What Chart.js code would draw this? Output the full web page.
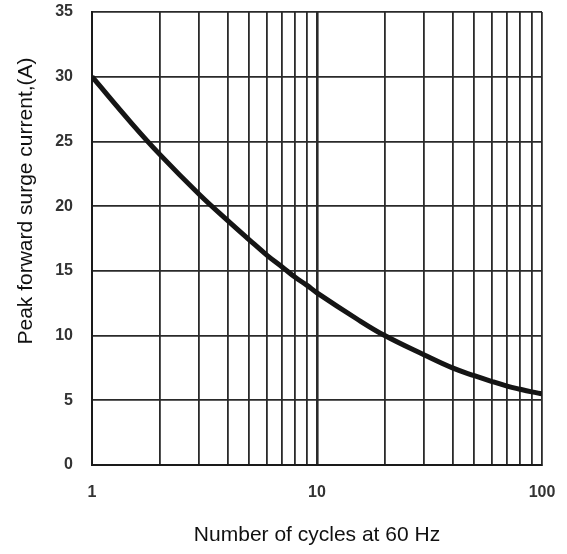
<!DOCTYPE html>
<html>
<head>
<meta charset="utf-8">
<script src="https://cdn.jsdelivr.net/npm/chart.js@4/dist/chart.umd.min.js"></script>
<style>
  html, body { margin: 0; padding: 0; background: #fff; }
  #wrap { width: 567px; height: 554px; }
</style>
</head>
<body>
<div id="wrap"><canvas id="c" width="567" height="554"></canvas></div>
<script>
// values
const cycles  = [1, 1.5, 2, 3, 4, 5, 6, 7, 8, 9, 10, 15, 20, 30, 40, 50, 60, 70, 80, 90, 100];
const current = [30, 26.4, 24.0, 20.9, 18.9, 17.4, 16.2, 15.3, 14.5, 13.9, 13.3, 11.3, 10.0, 8.5, 7.5, 6.9, 6.45, 6.1, 5.85, 5.65, 5.5];

// grid / tick positions
const xGrid   = [1, 2, 3, 4, 5, 6, 7, 8, 9, 10, 20, 30, 40, 50, 60, 70, 80, 90, 100];
const xLabels = [1, 10, 100];
const yMin = 0, yMax = 35, yStep = 5;

const xTitle = 'Number of cycles at 60 Hz';
const yTitle = 'Peak forward surge current,(A)';

const FONT = '"Liberation Sans", Arial, sans-serif';

// y title sits above centre in the reference, so draw it by hand
const yTitlePlugin = {
  id: 'yTitle',
  afterDraw(chart) {
    const ctx = chart.ctx;
    ctx.save();
    ctx.translate(26, 201);
    ctx.rotate(-Math.PI / 2);
    ctx.font = '21px ' + FONT;
    ctx.fillStyle = '#111';
    ctx.textAlign = 'center';
    ctx.textBaseline = 'middle';
    ctx.fillText(yTitle, 0, 0);
    ctx.restore();
  }
};

new Chart(document.getElementById('c'), {
  type: 'line',
  data: {
    datasets: [{
      data: cycles.map((x, i) => ({ x: x, y: current[i] })),
      borderColor: '#151515',
      borderWidth: 5,
      pointRadius: 0,
      tension: 0.4,
      fill: false
    }]
  },
  options: {
    responsive: false,
    animation: false,
    layout: { padding: { left: 0, right: 25, top: 12, bottom: 0 } },
    plugins: { legend: { display: false }, tooltip: { enabled: false } },
    scales: {
      x: {
        type: 'logarithmic',
        min: 1,
        max: 100,
        afterBuildTicks: s => { s.ticks = xGrid.map(v => ({ value: v })); },
        afterFit: s => { s.height = 89; s.paddingLeft = 0; s.paddingRight = 0; },
        ticks: {
          autoSkip: false,
          maxRotation: 0,
          padding: 18,
          color: '#333',
          font: { family: FONT, size: 16, weight: 'bold' },
          callback: v => xLabels.includes(v) ? String(v) : ''
        },
        grid: {
          drawTicks: false,
          color: '#2a2a2a',
          lineWidth: ctx => (ctx.tick && ctx.tick.value === 10) ? 2.6 : 1.8
        },
        border: { color: '#1a1a1a', width: 2 },
        title: {
          display: true,
          text: xTitle,
          color: '#111',
          font: { family: FONT, size: 21 },
          padding: { top: 0, bottom: 6 }
        }
      },
      y: {
        min: yMin,
        max: yMax,
        afterFit: s => { s.width = 92; s.paddingTop = 0; s.paddingBottom = 0; },
        ticks: {
          stepSize: yStep,
          padding: 19,
          color: '#333',
          font: { family: FONT, size: 16, weight: 'bold' }
        },
        grid: { drawTicks: false, color: '#2a2a2a', lineWidth: 1.8 },
        border: { color: '#1a1a1a', width: 2 }
      }
    }
  },
  plugins: [yTitlePlugin]
});
</script>
</body>
</html>
